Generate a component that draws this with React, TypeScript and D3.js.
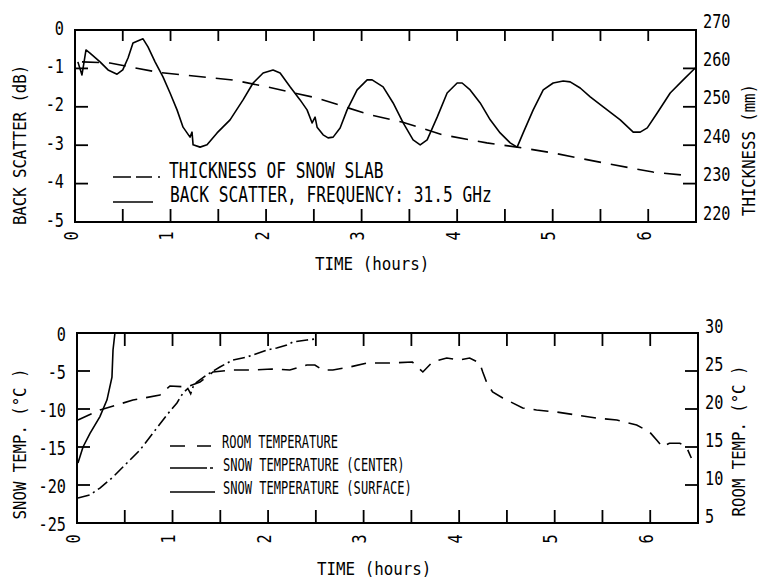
import React from "react";
import * as d3 from "d3";

// ---------- tick values ----------
const hourTicks = [0, 1, 2, 3, 4, 5, 6];
const halfHourTicks = [0.5, 1, 1.5, 2, 2.5, 3, 3.5, 4, 4.5, 5, 5.5, 6];
const backscatterTicks = [0, -1, -2, -3, -4, -5];
const thicknessTicks = [270, 260, 250, 240, 230, 220];
const snowTicks = [0, -5, -10, -15, -20, -25];
const roomTicks = [30, 25, 20, 15, 10, 5];

// ---------- top chart data ----------
const backscatterHours = [
  0.03, 0.073, 0.095, 0.115, 0.157, 0.262, 0.346, 0.44, 0.5, 0.555, 0.607, 0.68, 0.712, 0.764,
  0.838, 0.921, 0.995, 1.068, 1.131, 1.204, 1.225, 1.236, 1.309, 1.382, 1.487, 1.623, 1.759,
  1.864, 1.969, 2.073, 2.147, 2.251, 2.356, 2.429, 2.482, 2.513, 2.534, 2.597, 2.649, 2.702,
  2.775, 2.848, 2.953, 3.058, 3.11, 3.225, 3.33, 3.435, 3.539, 3.613, 3.686, 3.791, 3.895,
  4.0, 4.052, 4.136, 4.241, 4.346, 4.45, 4.555, 4.628, 4.691, 4.796, 4.901, 5.005, 5.11,
  5.183, 5.288, 5.393, 5.529, 5.707, 5.843, 5.916, 5.99, 6.094, 6.23, 6.366, 6.492,
];
const backscatterDb = [
  -0.83, -1.17, -0.83, -0.52, -0.6, -0.83, -1.04, -1.15, -1.04, -0.73, -0.34, -0.26, -0.23,
  -0.44, -0.83, -1.22, -1.64, -2.08, -2.53, -2.79, -2.66, -2.99, -3.05, -2.99, -2.68, -2.34,
  -1.82, -1.38, -1.12, -1.04, -1.12, -1.48, -1.82, -2.08, -2.42, -2.27, -2.53, -2.73, -2.81,
  -2.79, -2.55, -2.08, -1.56, -1.3, -1.3, -1.48, -1.9, -2.42, -2.86, -2.99, -2.86, -2.27,
  -1.64, -1.38, -1.38, -1.56, -1.9, -2.34, -2.68, -2.94, -3.05, -2.68, -2.08, -1.56, -1.38,
  -1.33, -1.35, -1.51, -1.74, -2.0, -2.34, -2.66, -2.66, -2.55, -2.16, -1.64, -1.3, -0.99,
];
const thicknessHours = [0.073, 0.366, 0.89, 1.65, 2.01, 2.53, 3.09, 3.43, 3.85, 4.31, 4.63, 5.0, 5.53, 6.05, 6.37];
const thicknessMm = [261.7, 261.4, 258.9, 257.0, 255.2, 252.3, 247.9, 246.0, 242.7, 240.6, 239.5, 238.0, 235.4, 233.0, 232.2];

// ---------- bottom chart data ----------
const roomHours = [
  0.01, 0.24, 0.586, 0.868, 0.973, 1.15, 1.287, 1.423, 1.632, 1.841, 2.04, 2.228, 2.406, 2.49,
  2.573, 2.678, 2.856, 3.033, 3.17, 3.27, 3.51, 3.62, 3.72, 3.87, 4.006, 4.11, 4.215, 4.247,
  4.29, 4.35, 4.456, 4.665, 4.81, 5.02, 5.23, 5.44, 5.65, 5.858, 5.994, 6.067, 6.13, 6.2,
  6.31, 6.38, 6.43,
];
const roomTemp = [
  18.55, 19.87, 21.18, 21.84, 23.03, 22.9, 23.55, 24.87, 25.13, 25.13, 25.26, 25.13, 25.79,
  25.79, 25.13, 25.13, 25.53, 26.05, 26.05, 26.05, 26.18, 24.87, 26.18, 26.71, 26.45, 26.71,
  26.05, 24.87, 23.42, 22.24, 21.45, 20.13, 19.87, 19.6, 19.2, 18.8, 18.55, 17.9, 16.97,
  15.92, 15.0, 15.5, 15.5, 15.0, 13.55,
];
const centerHours = [
  0.01, 0.136, 0.24, 0.377, 0.523, 0.659, 0.795, 0.94, 1.046, 1.109, 1.16, 1.19, 1.22, 1.255,
  1.36, 1.496, 1.632, 1.778, 1.987, 2.09, 2.197, 2.26, 2.406, 2.49,
];
const centerTemp = [
  -21.7, -21.3, -20.4, -18.95, -17.1, -15.4, -13.16, -10.8, -9.2, -7.9, -7.3, -8.0, -6.9,
  -6.45, -5.5, -4.47, -3.55, -3.16, -2.24, -1.97, -1.58, -1.18, -0.92, -0.79,
];
const surfaceHours = [0.01, 0.063, 0.136, 0.24, 0.314, 0.366, 0.377, 0.397];
const surfaceTemp = [-17.1, -15.0, -13.2, -11.0, -8.8, -5.8, -2.24, 0];

// ---------- text ----------
const topLegend = ["THICKNESS OF SNOW SLAB", "BACK SCATTER, FREQUENCY: 31.5 GHz"];
const bottomLegend = ["ROOM TEMPERATURE", "SNOW TEMPERATURE (CENTER)", "SNOW TEMPERATURE (SURFACE)"];

const FONT = "'DejaVu Sans Mono', 'Liberation Mono', monospace";

type TxtProps = {
  x: number;
  y: number;
  size: number;
  sx: number;
  anchor?: string;
  rot?: number;
  base?: string;
  children: React.ReactNode;
};
function Txt({ x, y, size, sx, anchor = "start", rot = 0, base = "auto", children }: TxtProps) {
  return (
    <text
      transform={`translate(${x},${y})${rot ? ` rotate(${rot})` : ""} scale(${sx},1)`}
      fontSize={size}
      fontFamily={FONT}
      textAnchor={anchor}
      dominantBaseline={base}
      fill="#000"
    >
      {children}
    </text>
  );
}

const zip = (a: number[], b: number[]) => a.map((v, i) => [v, b[i]] as [number, number]);

export default function App() {
  // top chart
  const xT = d3.scaleLinear().domain([0, 6.5]).range([75, 696]);
  const yB = d3.scaleLinear().domain([-5, 0]).range([222, 30]);
  const yTh = d3.scaleLinear().domain([220, 270]).range([222, 30]);
  // bottom chart
  const xB = d3.scaleLinear().domain([0, 6.5]).range([77, 698]);
  const yS = d3.scaleLinear().domain([-25, 0]).range([523, 333]);
  const yR = d3.scaleLinear().domain([5, 30]).range([523, 333]);

  const bsLine = d3.line<[number, number]>().x((d) => xT(d[0])).y((d) => yB(d[1]));
  const thLine = d3.line<[number, number]>().x((d) => xT(d[0])).y((d) => yTh(d[1]));
  const roomLine = d3.line<[number, number]>().x((d) => xB(d[0])).y((d) => yR(d[1]));
  const snowLine = d3.line<[number, number]>().x((d) => xB(d[0])).y((d) => yS(d[1]));

  const tickW = 1.8;
  const lineW = 1.6;

  const frame = (
    xs: d3.ScaleLinear<number, number>,
    yl: d3.ScaleLinear<number, number>,
    yr: d3.ScaleLinear<number, number>,
    lTicks: number[],
    rTicks: number[],
    topLen: number
  ) => {
    const [x0, x1] = xs.range();
    const [y1, y0] = yl.range();
    return (
      <g stroke="#000" strokeWidth={tickW} fill="none">
        <rect x={x0} y={y0} width={x1 - x0} height={y1 - y0} strokeWidth={2} />
        {halfHourTicks.map((t) => (
          <g key={"h" + t}>
            <line x1={xs(t)} x2={xs(t)} y1={y0} y2={y0 + topLen} />
            <line x1={xs(t)} x2={xs(t)} y1={y1} y2={y1 - 13} />
          </g>
        ))}
        {lTicks.slice(1, -1).map((t) => (
          <line key={"l" + t} x1={x0} x2={x0 + 13} y1={yl(t)} y2={yl(t)} />
        ))}
        {rTicks.slice(1, -1).map((t) => (
          <line key={"r" + t} x1={x1} x2={x1 - 13} y1={yr(t)} y2={yr(t)} />
        ))}
      </g>
    );
  };

  return (
    <svg
      width={759}
      height={578}
      style={{ position: "absolute", left: 0, top: 0, background: "#fff" }}
    >
      <rect x={0} y={0} width={759} height={578} fill="#fff" />

      {/* ================= TOP CHART ================= */}
      {frame(xT, yB, yTh, backscatterTicks, thicknessTicks, 11)}
      <path d={bsLine(zip(backscatterHours, backscatterDb)) || ""} fill="none" stroke="#000" strokeWidth={lineW} strokeLinejoin="round" />
      <path d={thLine(zip(thicknessHours, thicknessMm)) || ""} fill="none" stroke="#000" strokeWidth={lineW} strokeDasharray="17 10" />

      {backscatterTicks.map((t) => (
        <Txt key={"bl" + t} x={64} y={yB(t) - 2} size={19} sx={0.8} anchor="end" base="central">
          {t === 0 ? "0" : `-${Math.abs(t)}`}
        </Txt>
      ))}
      {thicknessTicks.map((t) => (
        <Txt key={"tr" + t} x={703} y={yTh(t) - 9} size={19} sx={0.8} base="central">
          {t}
        </Txt>
      ))}
      {hourTicks.map((t) => (
        <Txt key={"tx" + t} x={xT(t) - 4} y={236} size={19} sx={0.8} anchor="middle" base="central" rot={-90}>
          {t}
        </Txt>
      ))}
      <Txt x={20} y={145} size={18} sx={0.87} anchor="middle" base="central" rot={-90}>
        BACK SCATTER (dB)
      </Txt>
      <Txt x={749} y={150} size={18} sx={0.87} anchor="middle" base="central" rot={-90}>
        THICKNESS (mm)
      </Txt>
      <Txt x={315} y={270} size={18} sx={0.88}>
        TIME (hours)
      </Txt>

      {/* top legend */}
      <line x1={113} x2={161} y1={177} y2={177} stroke="#000" strokeWidth={lineW} strokeDasharray="18 5 16 6 2 10" />
      <line x1={113} x2={153} y1={202} y2={202} stroke="#000" strokeWidth={lineW} />
      <Txt x={169} y={178} size={20.5} sx={0.79}>
        {topLegend[0]}
      </Txt>
      <Txt x={170} y={202} size={20.5} sx={0.79}>
        {topLegend[1]}
      </Txt>

      {/* ================= BOTTOM CHART ================= */}
      {frame(xB, yS, yR, snowTicks, roomTicks, 13)}
      <path d={roomLine(zip(roomHours, roomTemp)) || ""} fill="none" stroke="#000" strokeWidth={lineW} strokeDasharray="15 9" />
      <path d={snowLine(zip(centerHours, centerTemp)) || ""} fill="none" stroke="#000" strokeWidth={lineW} strokeDasharray="12 4 2 4" />
      <path d={snowLine(zip(surfaceHours, surfaceTemp)) || ""} fill="none" stroke="#000" strokeWidth={lineW} />

      {snowTicks.map((t) => (
        <Txt key={"sl" + t} x={66} y={yS(t) + 1} size={19} sx={0.8} anchor="end" base="central">
          {t === 0 ? "0" : `-${Math.abs(t)}`}
        </Txt>
      ))}
      {roomTicks.map((t) => (
        <Txt key={"rr" + t} x={705} y={yR(t) - 7} size={19} sx={0.8} base="central">
          {t}
        </Txt>
      ))}
      {hourTicks.map((t) => (
        <Txt key={"bx" + t} x={xB(t) - 4} y={539} size={19} sx={0.8} anchor="middle" base="central" rot={-90}>
          {t}
        </Txt>
      ))}
      <Txt x={20} y={444} size={18} sx={0.87} anchor="middle" base="central" rot={-90}>
        SNOW TEMP. (°C )
      </Txt>
      <Txt x={739} y={441} size={18} sx={0.87} anchor="middle" base="central" rot={-90}>
        ROOM TEMP. (°C )
      </Txt>
      <Txt x={317} y={575} size={18} sx={0.88}>
        TIME (hours)
      </Txt>

      {/* bottom legend */}
      <line x1={170} x2={211} y1={446} y2={446} stroke="#000" strokeWidth={lineW} strokeDasharray="15 12 14" />
      <line x1={170} x2={213} y1={468} y2={468} stroke="#000" strokeWidth={lineW} strokeDasharray="37 3 3 10" />
      <line x1={170} x2={215} y1={492} y2={492} stroke="#000" strokeWidth={lineW} />
      <Txt x={222} y={448} size={18} sx={0.67}>
        {bottomLegend[0]}
      </Txt>
      <Txt x={223} y={471} size={18} sx={0.67}>
        {bottomLegend[1]}
      </Txt>
      <Txt x={223} y={494} size={18} sx={0.67}>
        {bottomLegend[2]}
      </Txt>
    </svg>
  );
}
